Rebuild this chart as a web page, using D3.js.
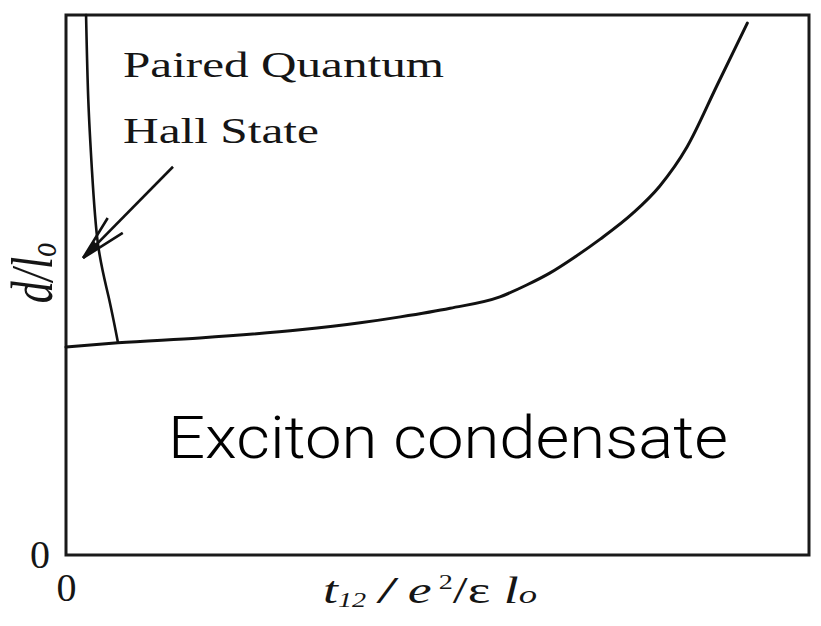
<!DOCTYPE html>
<html>
<head>
<meta charset="utf-8">
<script src="https://cdn.jsdelivr.net/npm/d3@7"></script>
<style>
  html, body { margin: 0; padding: 0; background: #fff; }
  svg { display: block; }
  .serif { font-family: "Liberation Serif", "DejaVu Serif", serif; fill: #151515; }
</style>
</head>
<body>
<svg id="chart" width="821" height="626"></svg>
<script>
// Phase diagram: interlayer tunnelling t12 (x) against layer separation d/l0 (y).
// Axis values are in arbitrary units; only the origin is labelled.
const tTicks = [0];
const dTicks = [0];

// Lower phase boundary (exciton condensate below it)
const lowerBoundaryT = [0.000, 0.070, 0.180, 0.315, 0.396, 0.450, 0.517, 0.584, 0.620, 0.651, 0.685, 0.719, 0.763, 0.799, 0.836, 0.876, 0.917];
const lowerBoundaryD = [0.385, 0.393, 0.402, 0.417, 0.430, 0.441, 0.457, 0.478, 0.500, 0.522, 0.552, 0.585, 0.633, 0.683, 0.756, 0.869, 0.985];

// Boundary enclosing the paired quantum Hall state at small tunnelling
const pairedBoundaryT = [0.027, 0.030, 0.035, 0.043, 0.057, 0.070];
const pairedBoundaryD = [1.000, 0.843, 0.711, 0.576, 0.480, 0.393];

// Pointer from the label to the paired state region: [tail, tip]
const arrowT = [0.144, 0.023];
const arrowD = [0.719, 0.550];

const labelLines = ["Paired Quantum", "Hall State"];
const regionLabel = "Exciton condensate";

const svg = d3.select("#chart");
const margin = { left: 66, right: 12, top: 15, bottom: 71 };
const W = 821, H = 626;

const x = d3.scaleLinear().domain([0, 1]).range([margin.left, W - margin.right]);
const y = d3.scaleLinear().domain([0, 1]).range([H - margin.bottom, margin.top]);

const ink = "#111";

// Frame
svg.append("rect")
  .attr("x", x(0)).attr("y", y(1))
  .attr("width", x(1) - x(0)).attr("height", y(0) - y(1))
  .attr("fill", "none").attr("stroke", "#1a1a1a").attr("stroke-width", 3);

// Axes: only the origin ticks are labelled, no tick marks
const xAxis = svg.append("g")
  .attr("transform", `translate(0,${y(0)})`)
  .call(d3.axisBottom(x).tickValues(tTicks).tickSize(0).tickFormat(d3.format("d")));
xAxis.select(".domain").remove();
xAxis.selectAll("text")
  .attr("class", "serif")
  .attr("y", 46).attr("dy", 0)
  .attr("font-size", 40);

const yAxis = svg.append("g")
  .attr("transform", `translate(${x(0)},0)`)
  .call(d3.axisLeft(y).tickValues(dTicks).tickSize(0).tickFormat(d3.format("d")));
yAxis.select(".domain").remove();
yAxis.selectAll("text")
  .attr("class", "serif")
  .attr("x", -16).attr("dy", "0.3em")
  .attr("font-size", 40);

// Boundaries
const lowerLine = d3.line().x(d => x(d[0])).y(d => y(d[1])).curve(d3.curveMonotoneX);
const pairedLine = d3.line().x(d => x(d[0])).y(d => y(d[1])).curve(d3.curveNatural);

svg.append("path")
  .datum(lowerBoundaryT.map((t, i) => [t, lowerBoundaryD[i]]))
  .attr("d", lowerLine)
  .attr("fill", "none").attr("stroke", ink).attr("stroke-width", 3)
  .attr("stroke-linecap", "round");

svg.append("path")
  .datum(pairedBoundaryT.map((t, i) => [t, pairedBoundaryD[i]]))
  .attr("d", pairedLine)
  .attr("fill", "none").attr("stroke", ink).attr("stroke-width", 2.6)
  .attr("stroke-linecap", "round");

// Arrow
const tail = [x(arrowT[0]), y(arrowD[0])];
const tip = [x(arrowT[1]), y(arrowD[1])];
svg.append("line")
  .attr("x1", tail[0]).attr("y1", tail[1])
  .attr("x2", tip[0]).attr("y2", tip[1])
  .attr("stroke", ink).attr("stroke-width", 2.6);

const ang = Math.atan2(tail[1] - tip[1], tail[0] - tip[0]);
const headLen = 47, spread = 13 * Math.PI / 180;
const barb = s => [tip[0] + headLen * Math.cos(ang + s), tip[1] + headLen * Math.sin(ang + s)];
const b1 = barb(-spread), b2 = barb(spread);
svg.append("path")
  .attr("d", `M${b1[0]},${b1[1]}L${tip[0]},${tip[1]}L${b2[0]},${b2[1]}`)
  .attr("fill", "none").attr("stroke", ink).attr("stroke-width", 2.6)
  .attr("stroke-linejoin", "miter");
const near = s => [tip[0] + 20 * Math.cos(ang + s), tip[1] + 20 * Math.sin(ang + s)];
const n1 = near(-spread), n2 = near(spread);
svg.append("path")
  .attr("d", `M${tip[0]},${tip[1]}L${n1[0]},${n1[1]}L${n2[0]},${n2[1]}Z`)
  .attr("fill", ink);

// Region labels
svg.append("text").attr("class", "serif")
  .attr("x", 123).attr("y", 77)
  .attr("font-size", 36)
  .attr("textLength", 321).attr("lengthAdjust", "spacingAndGlyphs")
  .text(labelLines[0]);
svg.append("text").attr("class", "serif")
  .attr("x", 123).attr("y", 143)
  .attr("font-size", 36)
  .attr("textLength", 196).attr("lengthAdjust", "spacingAndGlyphs")
  .text(labelLines[1]);

svg.append("text")
  .attr("x", 168).attr("y", 458)
  .attr("font-family", "Roboto, 'Noto Sans', sans-serif")
  .attr("font-weight", 300)
  .attr("font-size", 60)
  .attr("fill", "#000")
  .attr("textLength", 560).attr("lengthAdjust", "spacingAndGlyphs")
  .text(regionLabel);

// Axis titles
const xt = svg.append("text").attr("class", "serif")
  .attr("x", 323).attr("y", 603)
  .attr("font-size", 38)
  .attr("textLength", 214).attr("lengthAdjust", "spacingAndGlyphs");
xt.append("tspan").attr("font-style", "italic").text("t");
xt.append("tspan").attr("font-style", "italic").attr("font-size", 20).attr("dy", 4).text("12");
xt.append("tspan").attr("dy", -4).attr("font-style", "italic").attr("font-weight", "bold").text(" / ");
xt.append("tspan").attr("font-style", "italic").text("e");
xt.append("tspan").attr("font-size", 20).attr("dy", -14).text(" 2");
xt.append("tspan").attr("dy", 14).text("/ε ");
xt.append("tspan").attr("font-style", "italic").text("l");
xt.append("tspan").attr("font-style", "italic").attr("font-size", 26).text("o");

const yt = svg.append("text").attr("class", "serif")
  .attr("transform", "translate(52,273) rotate(-90) scale(1,1.35)")
  .attr("text-anchor", "middle")
  .attr("font-size", 44);
yt.append("tspan").attr("font-style", "italic").text("d/l");
yt.append("tspan").attr("font-style", "italic").attr("font-size", 28).attr("dy", 3).text("o");
</script>
</body>
</html>
